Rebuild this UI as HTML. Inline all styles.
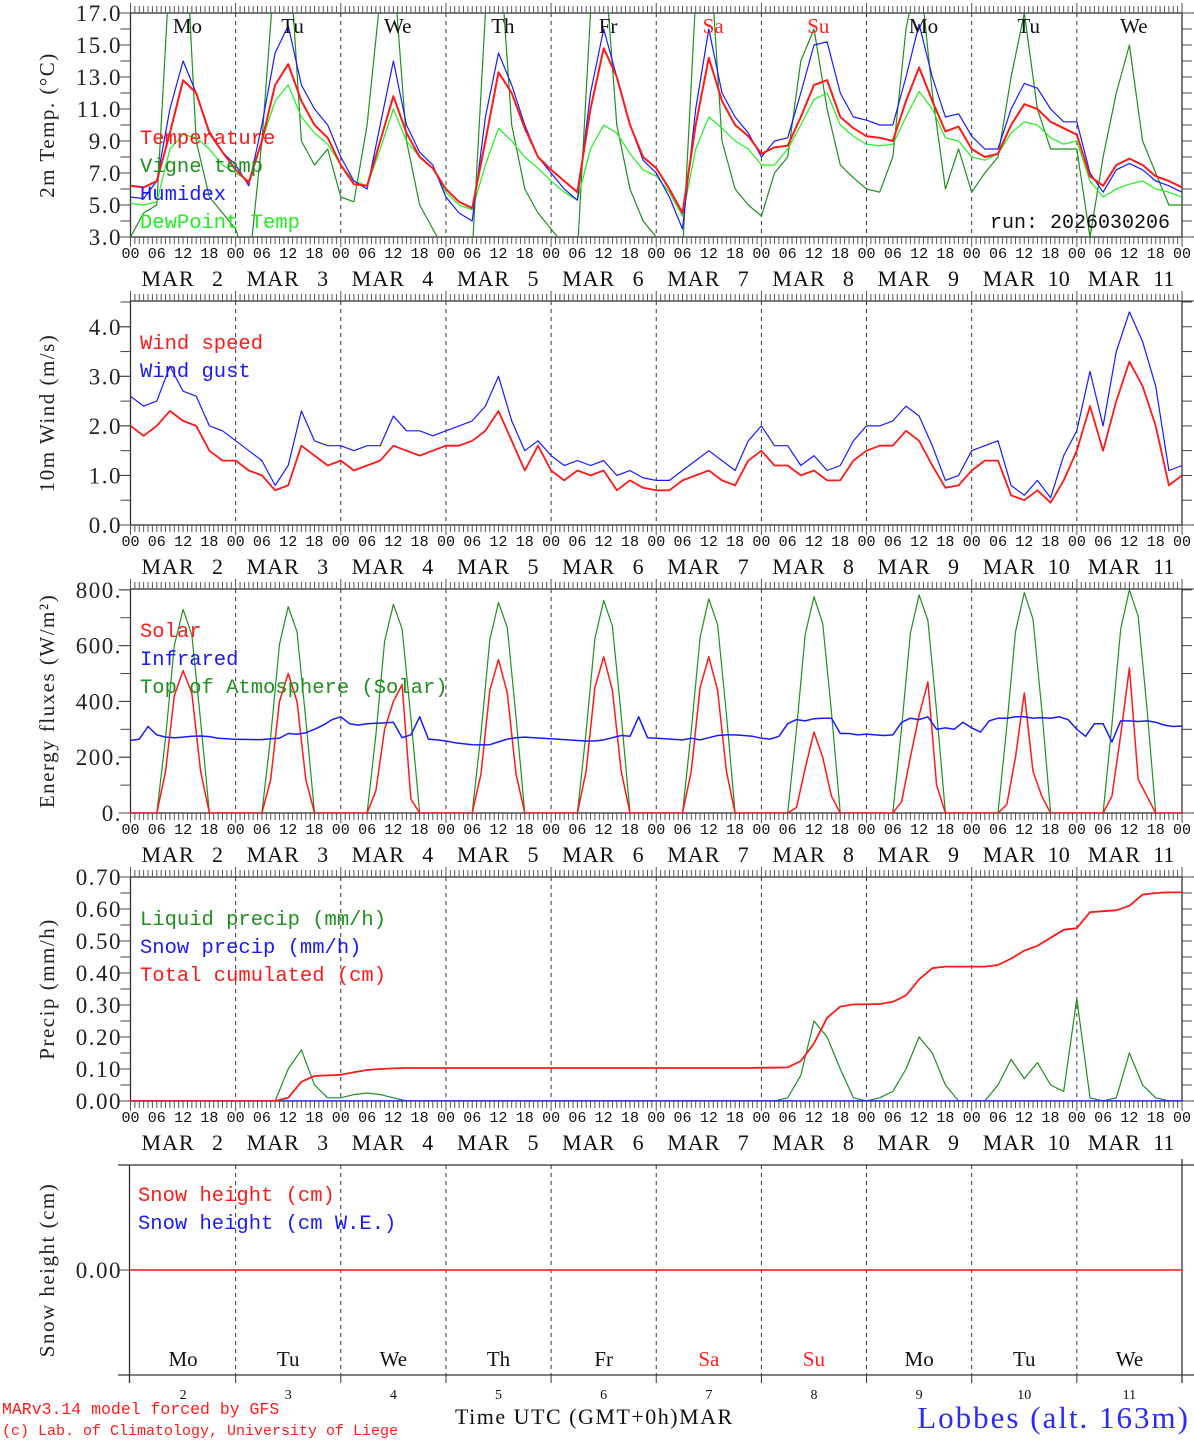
<!DOCTYPE html>
<html><head><meta charset="utf-8">
<style>
html,body{margin:0;padding:0;background:#fff;}
svg{display:block;font-family:"Liberation Serif",serif;}
.mono{font-family:"Liberation Mono",monospace;}
</style></head>
<body>
<svg id="chart" width="1194" height="1440" viewBox="0 0 1194 1440" xmlns="http://www.w3.org/2000/svg"></svg>
<script>
// ---------- data (3-hourly, Mar 2 00h .. Mar 12 00h) ----------
const days = ["2","3","4","5","6","7","8","9","10","11"];
const dayNames = ["Mo","Tu","We","Th","Fr","Sa","Su","Mo","Tu","We"];
const tempTicks = [3,5,7,9,11,13,15,17];
const windTicks = [0,1,2,3,4];
const fluxTicks = [0,200,400,600,800];
const precipTicks = [0,0.1,0.2,0.3,0.4,0.5,0.6,0.7];
const temperature = [6.2,6.1,6.5,9.5,12.8,12.0,9.5,8.3, 7.2,6.4,9.0,12.5,13.8,11.5,10.0,9.2, 7.5,6.3,6.2,9.0,11.8,9.5,8.0,7.3, 6.0,5.2,4.8,9.0,13.3,12.0,9.8,8.0, 7.2,6.5,5.8,11.0,14.8,13.0,10.0,8.0, 7.3,6.0,4.5,10.0,14.2,11.5,10.0,9.3, 8.2,8.6,8.7,10.5,12.5,12.8,10.5,9.8, 9.3,9.2,9.0,11.5,13.6,11.5,9.6,9.9, 8.5,8.0,8.2,10.0,11.3,11.0,10.2,9.8, 9.4,6.8,6.2,7.5,7.9,7.5,6.8,6.5,6.1];
const humidex = [5.5,5.4,6.5,11.0,14.0,12.0,9.6,8.3, 7.5,6.2,10.0,14.5,16.2,12.5,11.0,10.0, 8.0,6.5,6.0,10.0,14.0,10.0,8.3,7.5, 5.5,4.5,4.0,10.5,14.5,12.5,10.0,8.0, 7.0,6.0,5.3,12.0,16.0,13.0,10.0,7.8, 7.0,5.5,3.5,11.0,16.0,12.0,10.5,9.5, 8.0,9.0,9.2,12.0,15.0,15.2,12.0,10.5, 10.3,10.0,10.0,13.0,16.3,13.0,10.5,10.7, 9.3,8.5,8.5,11.0,12.6,12.3,11.0,10.2, 10.2,7.0,5.8,7.2,7.6,7.2,6.5,6.2,5.8];
const dewpoint = [5.1,5.0,5.2,8.5,9.4,9.2,8.5,7.5, 7.0,6.5,9.0,11.5,12.5,10.5,9.5,8.8, 7.5,6.5,6.2,8.5,11.0,9.0,8.0,7.3, 5.8,5.0,4.7,7.5,9.8,9.0,8.0,7.3, 6.5,5.8,5.3,8.5,10.0,9.5,8.2,7.2, 6.8,5.8,4.3,8.5,10.5,9.8,9.0,8.5, 7.5,7.5,8.5,10.0,11.6,12.0,10.0,9.3, 8.8,8.7,8.8,10.5,12.1,11.0,9.2,9.0, 8.0,7.8,8.2,9.5,10.2,10.0,9.2,8.8, 9.0,6.5,5.5,6.0,6.3,6.5,6.0,5.8,5.5];
const vigne = [3.0,4.5,5.0,20.0,25.0,9.0,5.5,4.5, 3.5,1.0,9.0,20.0,22.0,9.0,7.5,8.5, 5.5,5.2,10.0,18.0,20.0,9.0,5.0,3.5, 2.0,1.0,2.0,17.0,22.0,10.0,6.0,4.5, 3.5,2.5,2.0,17.0,21.0,10.0,6.0,4.0, 3.0,2.0,2.0,18.0,22.0,9.0,6.0,5.0, 4.3,7.0,8.0,14.0,16.0,11.0,7.5,6.7, 6.0,5.8,8.0,16.0,20.0,12.0,6.0,8.5, 5.8,7.0,8.0,13.0,17.0,11.0,8.5,8.5, 8.5,3.0,8.0,12.0,15.0,9.0,7.0,5.0,5.0];
const windSpeed = [2.0,1.8,2.0,2.3,2.1,2.0,1.5,1.3, 1.3,1.1,1.0,0.7,0.8,1.6,1.4,1.2, 1.3,1.1,1.2,1.3,1.6,1.5,1.4,1.5, 1.6,1.6,1.7,1.9,2.3,1.7,1.1,1.6, 1.1,0.9,1.1,1.0,1.1,0.7,0.9,0.75, 0.7,0.7,0.9,1.0,1.1,0.9,0.8,1.3, 1.5,1.2,1.2,1.0,1.1,0.9,0.9,1.3, 1.5,1.6,1.6,1.9,1.7,1.2,0.75,0.8, 1.1,1.3,1.3,0.6,0.5,0.7,0.45,0.9, 1.5,2.4,1.5,2.5,3.3,2.8,2.0,0.8,1.0];
const windGust = [2.6,2.4,2.5,3.2,2.7,2.6,2.0,1.9, 1.7,1.5,1.3,0.8,1.2,2.3,1.7,1.6, 1.6,1.5,1.6,1.6,2.2,1.9,1.9,1.8, 1.9,2.0,2.1,2.4,3.0,2.1,1.5,1.7, 1.4,1.2,1.3,1.2,1.3,1.0,1.1,0.95, 0.9,0.9,1.1,1.3,1.5,1.3,1.1,1.7, 2.0,1.6,1.6,1.2,1.4,1.1,1.2,1.7, 2.0,2.0,2.1,2.4,2.2,1.6,0.9,1.0, 1.5,1.6,1.7,0.8,0.6,0.9,0.55,1.4, 1.9,3.1,2.0,3.5,4.3,3.7,2.8,1.1,1.2];
// 2-hourly flux series
const solar = [0,0,0,0,150,420,510,430,150,0,0,0, 0,0,0,0,120,400,500,400,120,0,0,0, 0,0,0,0,80,300,400,460,50,0,0,0, 0,0,0,0,140,440,550,430,140,0,0,0, 0,0,0,0,150,450,560,440,150,0,0,0, 0,0,0,0,150,450,560,440,150,0,0,0, 0,0,0,0,20,160,290,200,60,0,0,0, 0,0,0,0,40,200,350,470,100,0,0,0, 0,0,0,0,30,200,430,150,60,0,0,0, 0,0,0,0,60,280,520,120,60,0,0,0,0];
const infrared = [260,265,310,280,272,270,272,275,276,274,268,266, 264,264,263,263,266,268,285,282,288,300,315,335, 345,320,315,320,322,323,325,270,280,345,265,262, 258,252,248,245,244,245,255,265,270,272,270,268, 266,264,262,260,258,258,262,270,278,275,345,270, 268,266,264,262,268,262,270,278,280,280,278,275, 268,265,275,320,335,330,338,340,340,285,285,280, 283,280,278,280,325,340,335,345,300,305,300,325, 305,290,330,340,340,345,345,340,342,340,345,335, 300,275,320,320,255,330,330,328,330,325,315,310,312];
const toa = [0,0,0,0,270,600,730,640,330,0,0,0, 0,0,0,0,275,605,740,650,335,0,0,0, 0,0,0,0,280,615,748,660,340,0,0,0, 0,0,0,0,285,620,755,665,345,0,0,0, 0,0,0,0,290,625,762,670,350,0,0,0, 0,0,0,0,295,630,768,675,355,0,0,0, 0,0,0,0,300,640,775,680,360,0,0,0, 0,0,0,0,305,645,782,690,365,0,0,0, 0,0,0,0,310,650,790,695,370,0,0,0, 0,0,0,0,315,660,800,705,375,0,0,0,0];
const liquidPrecip = [0,0,0,0,0,0,0,0, 0,0,0,0,0.10,0.16,0.05,0.01, 0.01,0.02,0.025,0.02,0.01,0,0,0, 0,0,0,0,0,0,0,0, 0,0,0,0,0,0,0,0, 0,0,0,0,0,0,0,0, 0,0,0.01,0.08,0.25,0.20,0.10,0.01, 0,0.01,0.03,0.10,0.20,0.15,0.05,0, 0,0,0.05,0.13,0.07,0.12,0.05,0.03, 0.32,0.01,0,0.01,0.15,0.05,0.01,0,0];
const snowPrecip = new Array(81).fill(0);
const cumulated = [0,0,0,0,0,0,0,0, 0,0,0,0,0.01,0.06,0.078,0.08, 0.082,0.09,0.097,0.10,0.102,0.103,0.103,0.103, 0.103,0.103,0.103,0.103,0.103,0.103,0.103,0.103, 0.103,0.103,0.103,0.103,0.103,0.103,0.103,0.103, 0.103,0.103,0.103,0.103,0.103,0.103,0.103,0.103, 0.104,0.104,0.105,0.125,0.18,0.26,0.295,0.302, 0.302,0.303,0.31,0.33,0.38,0.415,0.42,0.42, 0.42,0.42,0.425,0.445,0.47,0.485,0.51,0.535, 0.54,0.59,0.593,0.596,0.61,0.645,0.65,0.652,0.652];
const snowHeight = new Array(81).fill(0);

// ---------- drawing ----------
const NS="http://www.w3.org/2000/svg";
const svg=document.getElementById('chart');
const X0=130.5, X1=1182, HOURS=240;
const xh=h=>X0+(X1-X0)*h/HOURS;
function el(tag,attrs,parent){const e=document.createElementNS(NS,tag);for(const k in attrs)e.setAttribute(k,attrs[k]);(parent||svg).appendChild(e);return e;}
function txt(s,x,y,attrs,parent){const t=el('text',Object.assign({x:x,y:y},attrs),parent);t.textContent=s;return t;}

const panels=[
 {name:'temperature-panel',top:13,bot:237,min:3,max:17,ticks:tempTicks,fmt:v=>v.toFixed(1),title:'2m Temp. (°C)',minor:1,hourLbl:true},
 {name:'wind-panel',top:301,bot:525,min:0,max:4.52,ticks:windTicks,fmt:v=>v.toFixed(1),title:'10m Wind (m/s)',minor:0.5,hourLbl:true},
 {name:'flux-panel',top:589,bot:813,min:0,max:803,ticks:fluxTicks,fmt:v=>v+'.',title:'Energy fluxes (W/m²)',minor:100,hourLbl:true},
 {name:'precip-panel',top:877,bot:1101,min:0,max:0.7,ticks:precipTicks,fmt:v=>v.toFixed(2),title:'Precip (mm/h)',minor:0.05,hourLbl:true},
 {name:'snow-panel',top:1165,bot:1375,min:-1,max:1,ticks:[0],fmt:v=>v.toFixed(2),title:'Snow height (cm)',minor:null,hourLbl:false}
];
panels.forEach((p,pi)=>{
  const g=el('g',{});
  
  
  p.y=v=>p.bot-(v-p.min)*(p.bot-p.top)/(p.max-p.min);
  for(let d=1;d<10;d++){const x=xh(d*24);el('line',{x1:x,x2:x,y1:p.top,y2:p.bot,stroke:'#333','stroke-width':1,'stroke-dasharray':'4,4'},g);}
  if(pi<4){
    el('rect',{x:X0,y:p.top,width:X1-X0,height:p.bot-p.top,fill:'none',stroke:'#333','stroke-width':1.3},g);
    for(let h=0;h<=HOURS;h++){const x=xh(h);const L=(h%24==0)?10:7;
      el('line',{x1:x,x2:x,y1:p.top,y2:p.top-L,stroke:'#555','stroke-width':1},g);
      el('line',{x1:x,x2:x,y1:p.bot,y2:p.bot+L,stroke:'#555','stroke-width':1},g);}
    el('line',{x1:X1,x2:1194,y1:p.top,y2:p.top,stroke:'#333'},g);
    el('line',{x1:X1,x2:1194,y1:p.bot,y2:p.bot,stroke:'#333'},g);
  } else {
    el('line',{x1:118,x2:1194,y1:p.top,y2:p.top,stroke:'#333','stroke-width':1.3},g);
    el('line',{x1:118,x2:1194,y1:p.bot,y2:p.bot,stroke:'#333','stroke-width':1.3},g);
    el('line',{x1:X0-1,x2:X0-1,y1:p.top,y2:p.bot+8,stroke:'#333','stroke-width':1.3},g);
    el('line',{x1:X1,x2:X1,y1:p.top-6,y2:p.bot+8,stroke:'#333','stroke-width':1.3},g);
    for(let d=1;d<10;d++){const x=xh(d*24);el('line',{x1:x,x2:x,y1:p.bot,y2:p.bot+8,stroke:'#333'},g);}
  }
  if(p.minor){for(let v=p.min;v<=p.max+1e-9;v+=p.minor){const y=p.y(v);
    el('line',{x1:X0-10,x2:X0,y1:y,y2:y,stroke:'#444'},g);el('line',{x1:X1,x2:X1+10,y1:y,y2:y,stroke:'#444'},g);}}
  p.ticks.forEach(v=>{const y=p.y(v);el('line',{x1:X0-12,x2:X0,y1:y,y2:y,stroke:'#444'},g);
    const t=txt(p.fmt(v),122,y+8,{'text-anchor':'end','font-size':23,'letter-spacing':1.5,fill:'#222'},g);
    });
  const cy=(p.top+p.bot)/2;
  const yt=txt(p.title,0,0,{'text-anchor':'middle','font-size':21,'letter-spacing':1.5,fill:'#222',transform:`translate(54 ${cy}) rotate(-90)`},g);
  
  if(p.hourLbl){
    for(let h=0;h<=HOURS;h+=6){const t=txt(String(h%24).padStart(2,'0'),xh(h),p.bot+21,{'text-anchor':'middle','font-size':15,class:'mono',fill:'#111'},g);
      }
    days.forEach((d,i)=>{const x=xh(i*24);
      const t=txt('MAR',x+11,p.bot+49,{'font-size':22,'letter-spacing':1,fill:'#111'},g);
      
      const n=txt(d,x+87,p.bot+49,{'text-anchor':'middle','font-size':22,fill:'#111'},g);
      });
  }
  const cp=el('clipPath',{id:'clip'+pi},g);
  el('rect',{x:X0,y:p.top,width:X1-X0,height:p.bot-p.top},cp);
  p.g=el('g',{'clip-path':`url(#clip${pi})`},g);
});
function series(p,arr,step,color,w,name){
  const pts=arr.map((v,i)=>xh(i*step).toFixed(1)+','+p.y(v).toFixed(1)).join(' ');
  const l=el('polyline',{points:pts,fill:'none',stroke:color,'stroke-width':w,'stroke-linejoin':'round'},p.g);
  
  
}
function legend(s,x,y,color){const t=txt(s,x,y,{'font-size':20.5,class:'mono',fill:color});
  
  }
const [P1,P2,P3,P4,P5]=panels;
series(P1,vigne,3,'#1f8f1f',1.2,'vigne-temp-line');
series(P1,dewpoint,3,'#22ee22',1.2,'dewpoint-line');
series(P1,humidex,3,'#1a1aff',1.2,'humidex-line');
series(P1,temperature,3,'#ff1a1a',2,'temperature-line');
series(P2,windGust,3,'#1a1aff',1.2,'wind-gust-line');
series(P2,windSpeed,3,'#ff1a1a',1.8,'wind-speed-line');
series(P3,toa,2,'#1f8f1f',1.2,'toa-solar-line');
series(P3,solar,2,'#ff1a1a',1.5,'solar-line');
series(P3,infrared,2,'#1a1aff',1.5,'infrared-line');
series(P4,liquidPrecip,3,'#1f8f1f',1.2,'liquid-precip-line');
series(P4,snowPrecip,3,'#1a1aff',1.5,'snow-precip-line');
series(P4,cumulated,3,'#ff1a1a',1.8,'cumulated-precip-line');
series(P5,snowHeight,3,'#ff3030',1.8,'snow-height-line');

legend('Temperature',140,144,'#ff1a1a');legend('Vigne temp',140,172,'#1f8f1f');
legend('Humidex',140,200,'#1a1aff');legend('DewPoint Temp',140,228,'#22ee22');
legend('Wind speed',140,349,'#ff1a1a');legend('Wind gust',140,377,'#1a1aff');
legend('Solar',140,637,'#ff1a1a');legend('Infrared',140,665,'#1a1aff');legend('Top of Atmosphere (Solar)',140,693,'#1f8f1f');
legend('Liquid precip (mm/h)',140,925,'#1f8f1f');legend('Snow precip (mm/h)',140,953,'#1a1aff');legend('Total cumulated (cm)',140,981,'#ff1a1a');
legend('Snow height (cm)',138,1201,'#ff1a1a');legend('Snow height (cm W.E.)',138,1229,'#1a1aff');

const run=txt('run: 2026030206',1170,228,{'text-anchor':'end','font-size':20,class:'mono',fill:'#111'});

dayNames.forEach((d,i)=>{const c=(i==5||i==6)?'#ff2020':'#111';const x=xh(i*24+13);
  const a=txt(d,x,33,{'text-anchor':'middle','font-size':21,fill:c});
  
  const b=txt(d,xh(i*24+12),1366,{'text-anchor':'middle','font-size':21,fill:c});
  
  const n=txt(days[i],xh(i*24+12),1399,{'text-anchor':'middle','font-size':14,fill:'#111'});
  });
const xt=txt('Time UTC (GMT+0h)MAR',455,1424,{'font-size':22,'letter-spacing':1.5,fill:'#111'});

const f1=txt('MARv3.14 model forced by GFS',2,1414,{'font-size':16.5,class:'mono',fill:'#ff1a1a'});

const f2=txt('(c) Lab. of Climatology, University of Liege',2,1435,{'font-size':15,class:'mono',fill:'#ff1a1a'});

const loc=txt('Lobbes (alt. 163m)',1190,1428,{'text-anchor':'end','font-size':31,'letter-spacing':2,fill:'#2a2aff'});

</script>
</body></html>
